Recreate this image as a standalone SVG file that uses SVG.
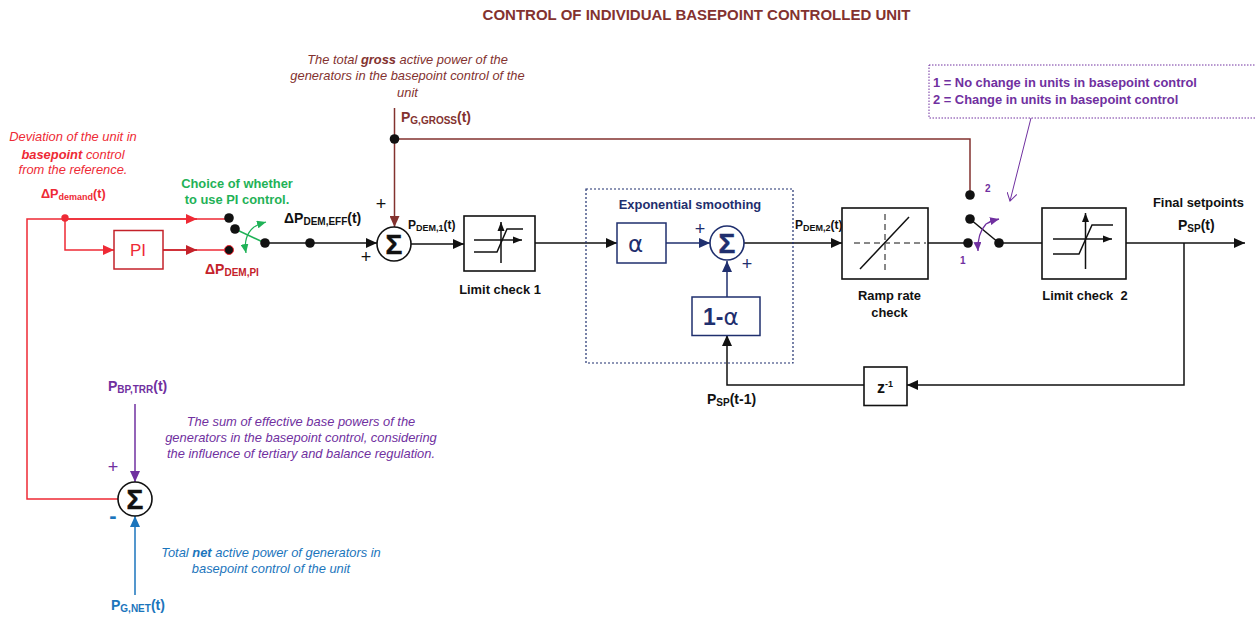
<svg xmlns="http://www.w3.org/2000/svg" width="1255" height="617" viewBox="0 0 1255 617">
<style>
text{font-family:"Liberation Sans",Arial,sans-serif}
.c{text-anchor:middle}
.b{font-weight:700}
.i{font-style:italic;font-size:12.9px}
.l{font-weight:700;font-size:14px}
.m{font-weight:700;font-size:12.9px}
.s{font-weight:700;font-size:12px}
.red{fill:#ee2a35}.brn{fill:#83322f}.pur{fill:#7030a0}.blu{fill:#1b75bc}.nav{fill:#1f2f6e}.grn{fill:#1fb257}.dred{fill:#c4222a}.blk{fill:#111}
.box{fill:#fff;stroke:#111;stroke-width:1.6}
.sum{fill:#fff;stroke:#111;stroke-width:1.6}
.w{fill:none;stroke:#111;stroke-width:1.5}
.t{fill:none;stroke:#111;stroke-width:1}
.sg{font-weight:700;font-size:28px;fill:#111;stroke:#111;stroke-width:.5}
.sgn{fill:#1f2f6e;stroke:#1f2f6e}
.p{font-size:17px;font-weight:400}
.a{font-family:"DejaVu Sans",sans-serif;font-size:23px}
.o{font-weight:700;font-size:23px}
</style>
<defs>
<marker id="ak" markerUnits="userSpaceOnUse" markerWidth="12" markerHeight="10" refX="11" refY="5" orient="auto"><path d="M0 0L11 5L0 10Z" fill="#111"/></marker>
<marker id="aks" markerUnits="userSpaceOnUse" markerWidth="10" markerHeight="8" refX="9" refY="4" orient="auto"><path d="M0 0.500L9 4L0 7.500Z" fill="#111"/></marker>
<marker id="ar" markerUnits="userSpaceOnUse" markerWidth="12" markerHeight="10" refX="11" refY="5" orient="auto"><path d="M0 0L11 5L0 10Z" fill="#ee2a35"/></marker>
<marker id="adr" markerUnits="userSpaceOnUse" markerWidth="12" markerHeight="10" refX="11" refY="5" orient="auto"><path d="M0 0L11 5L0 10Z" fill="#c4222a"/></marker>
<marker id="ab" markerUnits="userSpaceOnUse" markerWidth="12" markerHeight="10" refX="11" refY="5" orient="auto"><path d="M0 0L11 5L0 10Z" fill="#83322f"/></marker>
<marker id="an" markerUnits="userSpaceOnUse" markerWidth="12" markerHeight="10" refX="11" refY="5" orient="auto"><path d="M0 0L11 5L0 10Z" fill="#1f2f6e"/></marker>
<marker id="ap" markerUnits="userSpaceOnUse" markerWidth="12" markerHeight="10" refX="11" refY="5" orient="auto"><path d="M0 0L11 5L0 10Z" fill="#7030a0"/></marker>
<marker id="au" markerUnits="userSpaceOnUse" markerWidth="12" markerHeight="10" refX="11" refY="5" orient="auto"><path d="M0 0L11 5L0 10Z" fill="#1b75bc"/></marker>
<marker id="ag" markerUnits="userSpaceOnUse" markerWidth="10" markerHeight="8" refX="9" refY="4" orient="auto"><path d="M0 0L9 4L0 8Z" fill="#1fb257"/></marker>
<marker id="apo" markerUnits="userSpaceOnUse" markerWidth="10" markerHeight="8" refX="9" refY="4" orient="auto"><path d="M0 0L9 4L0 8Z" fill="#7030a0"/></marker>
<marker id="apl" markerUnits="userSpaceOnUse" markerWidth="9" markerHeight="10" refX="8" refY="5" orient="auto"><path d="M0 0L8 5L0 10" fill="none" stroke="#7030a0"/></marker>
</defs>

<text id="title" class="b c brn" x="696.500" y="20" font-size="15">CONTROL OF INDIVIDUAL BASEPOINT CONTROLLED UNIT</text>

<g id="connectors" fill="none" stroke-width="1.500">
<path d="M118 499H27V219H229" stroke="#ee2a35"/>
<path d="M65 219H197" stroke="#ee2a35" marker-end="url(#ar)"/>
<path d="M65 219V250H114" stroke="#ee2a35" marker-end="url(#ar)"/>
<path d="M163 250H229" stroke="#ee2a35"/>
<path d="M163 250H197" stroke="#c4222a" marker-end="url(#adr)"/>
<path d="M235 229L265 243" stroke="#1fb257"/>
<path d="M265 243H377" stroke="#111" marker-end="url(#ak)"/>
<path d="M394.500 108V227" stroke="#83322f" marker-end="url(#ab)"/>
<path d="M394.500 139H970V195" stroke="#83322f"/>
<path d="M411 244H464" stroke="#111" marker-end="url(#ak)"/>
<path d="M535 243H617" stroke="#111" marker-end="url(#ak)"/>
<path d="M666 243H710" stroke="#1f2f6e" marker-end="url(#an)"/>
<path d="M727 297V261" stroke="#1f2f6e" marker-end="url(#an)"/>
<path d="M744 243H842" stroke="#111" marker-end="url(#ak)"/>
<path d="M928 243H968" stroke="#111"/>
<path d="M970 219L999 243" stroke="#111"/>
<path d="M999 243H1042" stroke="#111"/>
<path d="M1126 243H1245" stroke="#111" marker-end="url(#ak)"/>
<path d="M1184 243V385H907" stroke="#111" marker-end="url(#ak)"/>
<path d="M864 385H727V335" stroke="#111" marker-end="url(#ak)"/>
<path d="M135 404V482" stroke="#7030a0" marker-end="url(#ap)"/>
<path d="M135 595V516" stroke="#1b75bc" marker-end="url(#au)"/>
<path d="M1031 118L1010 201" stroke="#7030a0" stroke-width="1" marker-end="url(#apl)"/>
<path d="M254 227Q243 236 246 253" stroke="#1fb257" stroke-width="1.200" marker-end="url(#ag)"/>
<path d="M254 227Q259 224 266 222" stroke="#1fb257" stroke-width="1.200" marker-end="url(#ag)"/>
<path d="M986 224Q977 234 978 251" stroke="#7030a0" stroke-width="1.300" marker-end="url(#apo)"/>
<path d="M986 224Q991 221 999 219" stroke="#7030a0" stroke-width="1.300" marker-end="url(#apo)"/>
</g>

<g id="dots" fill="#111">
<circle cx="65" cy="218" r="3.700" fill="#ee2a35"/>
<circle cx="229" cy="218" r="4.800"/>
<circle cx="235" cy="229" r="4.800"/>
<circle cx="229" cy="250" r="4.500" stroke="#ee2a35" stroke-width="1"/>
<circle cx="265" cy="243" r="4.800"/>
<circle cx="310" cy="243" r="4.800"/>
<circle cx="394.500" cy="139" r="4.800"/>
<circle cx="970" cy="195" r="4.800"/>
<circle cx="970" cy="219" r="4.800"/>
<circle cx="968" cy="243" r="4.800"/>
<circle cx="999" cy="243" r="4.800"/>
</g>

<g id="pi"><rect x="114" y="230.500" width="49" height="38.500" fill="#fff" stroke="#c4222a" stroke-width="1.500"/><text class="c p red" x="138" y="256">PI</text></g>

<g id="sum1"><circle class="sum" cx="394" cy="244" r="17"/><text class="c sg" x="394" y="254">Σ</text></g>
<g id="sum2"><circle cx="727" cy="243" r="17" fill="#fff" stroke="#1f2f6e" stroke-width="1.600"/><text class="c sg sgn" x="727" y="253">Σ</text></g>
<g id="sum3"><circle class="sum" cx="135" cy="499" r="17"/><text class="c sg" x="135" y="509">Σ</text></g>

<g id="limit1"><rect class="box" x="464" y="216" width="71" height="55"/>
<path class="w" d="M474 252H497L507 229H523"/><path class="w" d="M474 240H522" marker-end="url(#aks)"/><path class="w" d="M501 263V222" marker-end="url(#aks)"/>
<text class="c m blk" x="500" y="294">Limit check 1</text></g>

<g id="smoothing"><rect x="586" y="189" width="207" height="174" fill="none" stroke="#1f2f6e" stroke-dasharray="2 2" stroke-width="1.200"/>
<text class="c m nav" x="690" y="209">Exponential smoothing</text></g>

<g id="alpha"><rect x="617" y="223" width="49" height="40" fill="#fff" stroke="#1f2f6e" stroke-width="1.500"/><text class="nav a" x="628" y="252">α</text></g>
<g id="oneminus"><rect x="692" y="297" width="68" height="38.500" fill="#fff" stroke="#1f2f6e" stroke-width="1.500"/><text class="nav o" x="703" y="325">1-<tspan class="a" font-weight="400">α</tspan></text></g>

<g id="ramp"><rect class="box" x="842" y="208" width="86" height="71"/>
<path class="w" d="M860 269L909 217"/><path class="t" d="M854 243H926M885 214V270" stroke-dasharray="6 4"/>
<text class="c m blk" x="889.500" y="300">Ramp rate</text><text class="c m blk" x="889.500" y="317">check</text></g>

<g id="limit2"><rect class="box" x="1042" y="208" width="84" height="71"/>
<path class="w" d="M1053 254H1079L1092 225H1113"/><path class="w" d="M1053 239H1112" marker-end="url(#aks)"/><path class="w" d="M1085.500 269V213" marker-end="url(#aks)"/>
<text class="c m blk" x="1085" y="300" xml:space="preserve">Limit check  2</text></g>

<g id="delay"><rect class="box" x="864" y="367" width="43" height="38.500"/><text class="c b blk" x="885" y="393" font-size="16">z<tspan font-size="9" dy="-6">-1</tspan></text></g>

<g id="note-switch"><rect x="929" y="65" width="330" height="53" fill="none" stroke="#7030a0" stroke-dasharray="1.500 1.500" stroke-width="1"/>
<text class="m pur" x="933" y="87">1 = No change in units in basepoint control</text>
<text class="m pur" x="933" y="104">2 = Change in units in basepoint control</text>
<text class="b pur" x="985" y="192" font-size="10">2</text>
<text class="b pur" x="960" y="264" font-size="10">1</text></g>

<g id="labels">
<text class="c i brn" x="407.500" y="64">The total <tspan font-weight="700">gross</tspan> active power of the</text>
<text class="c i brn" x="407.500" y="80">generators in the basepoint control of the</text>
<text class="c i brn" x="407.500" y="97">unit</text>
<text class="l brn" x="401" y="122">P<tspan font-size="10" dy="2">G,GROSS</tspan><tspan dy="-2">(t)</tspan></text>

<text class="c i red" x="73" y="141">Deviation of the unit in</text>
<text class="c i red" x="73" y="159"><tspan font-weight="700">basepoint</tspan> control</text>
<text class="c i red" x="73" y="174">from the reference.</text>
<text class="l red" x="41" y="198" style="font-size:12.700px">ΔP<tspan font-size="9" dy="2">demand</tspan><tspan dy="-2">(t)</tspan></text>

<text class="c m grn" x="237" y="188">Choice of whether</text>
<text class="c m grn" x="237" y="204">to use PI control.</text>
<text class="l dred" x="205" y="274">ΔP<tspan font-size="10" dy="2">DEM,PI</tspan></text>
<text class="l blk" x="284" y="223">ΔP<tspan font-size="10" dy="2">DEM,EFF</tspan><tspan dy="-2">(t)</tspan></text>
<text class="s blk" x="408" y="229">P<tspan font-size="9" dy="2">DEM,1</tspan><tspan dy="-2">(t)</tspan></text>
<text class="s blk" x="795" y="229">P<tspan font-size="9" dy="2">DEM,2</tspan><tspan dy="-2">(t)</tspan></text>
<text class="m blk" x="1153" y="207">Final setpoints</text>
<text class="l blk" x="1178" y="230">P<tspan font-size="10" dy="2">SP</tspan><tspan dy="-2">(t)</tspan></text>
<text class="l blk" x="707" y="404">P<tspan font-size="10" dy="2">SP</tspan><tspan dy="-2">(t-1)</tspan></text>

<text class="l pur" x="108" y="391">P<tspan font-size="10" dy="2">BP,TRR</tspan><tspan dy="-2">(t)</tspan></text>
<text class="c i pur" x="301" y="426">The sum of effective base powers of the</text>
<text class="c i pur" x="301" y="442">generators in the basepoint control, considering</text>
<text class="c i pur" x="301" y="458">the influence of tertiary and balance regulation.</text>
<text class="c i blu" x="271" y="557">Total <tspan font-weight="700">net</tspan> active power of generators in</text>
<text class="c i blu" x="271" y="573">basepoint control of the unit</text>
<text class="l blu" x="111" y="610">P<tspan font-size="10" dy="2">G,NET</tspan><tspan dy="-2">(t)</tspan></text>

<text class="c blk" x="381" y="210" font-size="18">+</text>
<text class="c blk" x="366" y="263" font-size="18">+</text>
<text class="c nav" x="700" y="235" font-size="18">+</text>
<text class="c nav" x="747" y="270" font-size="18">+</text>
<text class="c pur" x="113" y="473" font-size="18">+</text>
<text class="c b blu" x="113" y="523" font-size="22">-</text>
</g>
</svg>
